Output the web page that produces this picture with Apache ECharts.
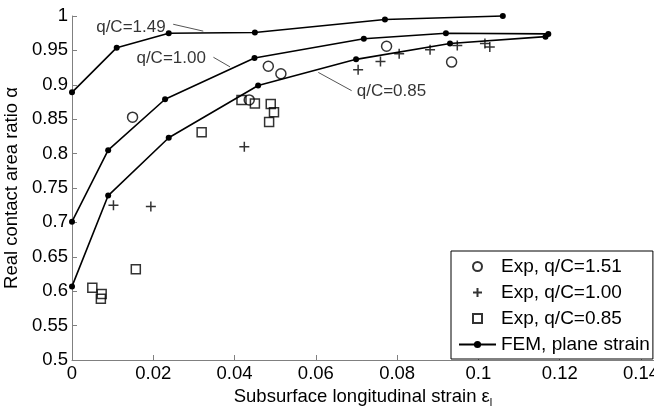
<!DOCTYPE html>
<html lang="en">

<head>
    <meta charset="UTF-8">
    <title>Real contact area ratio</title>
    <style>
        html, body { margin: 0; padding: 0; background: #fff; }
        #main { width: 654px; height: 412px; }
    </style>
</head>

<body>
    <div id="main"></div>
</body>
<script src="https://cdn.jsdelivr.net/npm/echarts@6/dist/echarts.min.js"></script>
<script>
    // FEM, plane strain curves
    const fem149X = [0, 0.011, 0.0238, 0.045, 0.077, 0.106]
    const fem149Y = [0.889, 0.954, 0.975, 0.976, 0.995, 1.0]
    const fem100X = [0, 0.0089, 0.0229, 0.0449, 0.0718, 0.092, 0.1172]
    const fem100Y = [0.701, 0.805, 0.879, 0.939, 0.967, 0.975, 0.974]
    const fem085X = [0, 0.0089, 0.0238, 0.0458, 0.0699, 0.093, 0.1165]
    const fem085Y = [0.607, 0.739, 0.823, 0.899, 0.937, 0.960, 0.970]

    // experiments
    const exp151X = [0.0149, 0.0436, 0.0483, 0.0514, 0.0774, 0.0934]
    const exp151Y = [0.853, 0.878, 0.927, 0.916, 0.956, 0.933]
    const exp100X = [0.0102, 0.0194, 0.0424, 0.0704, 0.0759, 0.0805, 0.0881, 0.0948, 0.1016, 0.1028]
    const exp100Y = [0.725, 0.723, 0.81, 0.922, 0.934, 0.945, 0.951, 0.957, 0.96, 0.955]
    const exp085X = [0.005, 0.0071, 0.0073, 0.0157, 0.0319, 0.0417, 0.045, 0.0489, 0.0497, 0.0485]
    const exp085Y = [0.605, 0.589, 0.596, 0.632, 0.831, 0.878, 0.873, 0.872, 0.86, 0.846]

    // curve labels and their leader lines
    const noteText = ['q/C=1.49', 'q/C=1.00', 'q/C=0.85']
    const noteX = [0.0145, 0.0244, 0.0786]
    const noteY = [0.984, 0.938, 0.8905]
    const leaderFrom = [[0.0249, 0.988], [0.0348, 0.940], [0.0688, 0.8915]]
    const leaderTo = [[0.0323, 0.978], [0.0389, 0.926], [0.0606, 0.918]]

    const xTicks = [0, 0.02, 0.04, 0.06, 0.08, 0.1, 0.12, 0.14]
    const legendNames = ['Exp, q/C=1.51', 'Exp, q/C=1.00', 'Exp, q/C=0.85', 'FEM, plane strain']

    const FONT = 'Liberation Sans, Arial, sans-serif'
    const AXIS_GRAY = '#808080'
    const PLUS = 'path://M5,0 L5,10 M0,5 L10,5'
    const SQUARE = 'path://M0,0 L10,0 L10,10 L0,10 Z'
    const zip = (xs, ys) => xs.map((x, i) => [x, ys[i]])

    function femSeries(xs, ys, name) {
        return {
            name: name,
            type: 'line',
            data: zip(xs, ys),
            symbol: 'circle',
            symbolSize: 6,
            clip: false,
            lineStyle: { color: '#000', width: 1.6 },
            itemStyle: { color: '#000' },
            z: 3
        }
    }

    function expSeries(xs, ys, name, symbol, size) {
        return {
            name: name,
            type: 'scatter',
            data: zip(xs, ys),
            symbol: symbol,
            symbolSize: size,
            symbolKeepAspect: true,
            clip: false,
            itemStyle: { color: 'rgba(0,0,0,0)', borderColor: '#000', borderWidth: 1.5 },
            z: 4
        }
    }

    const series = [
        expSeries(exp151X, exp151Y, legendNames[0], 'circle', 10),
        expSeries(exp100X, exp100Y, legendNames[1], PLUS, 10),
        expSeries(exp085X, exp085Y, legendNames[2], SQUARE, 9),
        femSeries(fem149X, fem149Y, legendNames[3]),
        femSeries(fem100X, fem100Y, legendNames[3]),
        femSeries(fem085X, fem085Y, legendNames[3])
    ]

    leaderFrom.forEach((p, i) => {
        series.push({
            name: 'leader' + i,
            type: 'line',
            data: [p, leaderTo[i]],
            symbol: 'none',
            silent: true,
            lineStyle: { color: '#555', width: 1 },
            z: 2
        })
    })

    series.push({
        name: 'notes',
        type: 'scatter',
        symbolSize: 0,
        silent: true,
        data: noteText.map((t, i) => ({ value: [noteX[i], noteY[i]], text: t })),
        label: {
            show: true,
            position: 'inside',
            formatter: p => p.data.text,
            color: '#000',
            fontFamily: FONT,
            fontSize: 17
        },
        z: 5
    })

    function isTick(v) {
        return xTicks.some(t => Math.abs(t - v) < 1e-9)
    }

    echarts.init(document.getElementById('main')).setOption({
        animation: false,
        backgroundColor: '#fff',
        textStyle: { fontFamily: FONT },
        grid: { left: 72, right: 0, top: 16, bottom: 52, containLabel: false, outerBoundsMode: 'none' },
        legend: {
            data: [
                { name: legendNames[0], icon: 'circle' },
                { name: legendNames[1], icon: PLUS },
                { name: legendNames[2], icon: SQUARE },
                { name: legendNames[3] }
            ],
            orient: 'vertical',
            left: 451,
            top: 251,
            padding: [6, 3, 5, 7],
            itemWidth: 37,
            itemHeight: 9,
            itemGap: 7,
            symbolKeepAspect: true,
            backgroundColor: '#fff',
            borderColor: '#000',
            borderWidth: 1,
            textStyle: { fontFamily: FONT, fontSize: 19, color: '#000' }
        },
        xAxis: {
            type: 'value',
            min: 0,
            max: 0.1432,
            interval: 0.02,
            name: 'Subsurface longitudinal strain ε{sub|l}',
            nameLocation: 'middle',
            nameGap: 24,
            nameTextStyle: {
                fontFamily: FONT, fontSize: 18.5, color: '#000',
                rich: { sub: { fontFamily: FONT, fontSize: 11, color: '#000', padding: [12, 0, 0, 0] } }
            },
            splitLine: { show: false },
            axisLine: { lineStyle: { color: AXIS_GRAY, width: 1 } },
            axisTick: { inside: true, length: 5, lineStyle: { color: AXIS_GRAY } },
            axisLabel: {
                color: '#000', fontSize: 18.5, margin: 4,
                formatter: v => isTick(v) ? String(+v.toFixed(2)) : ''
            }
        },
        yAxis: {
            type: 'value',
            min: 0.5,
            max: 1,
            interval: 0.05,
            name: 'Real contact area ratio α',
            nameLocation: 'middle',
            nameGap: 43,
            nameTextStyle: { fontFamily: FONT, fontSize: 18.5, color: '#000' },
            splitLine: { show: false },
            axisLine: { show: true, lineStyle: { color: AXIS_GRAY, width: 1 } },
            axisTick: { show: true, inside: true, length: 5, lineStyle: { color: AXIS_GRAY } },
            axisLabel: {
                color: '#000', fontSize: 18.5, margin: 4,
                formatter: v => String(+v.toFixed(2))
            }
        },
        series: series
    });
</script>

</html>
